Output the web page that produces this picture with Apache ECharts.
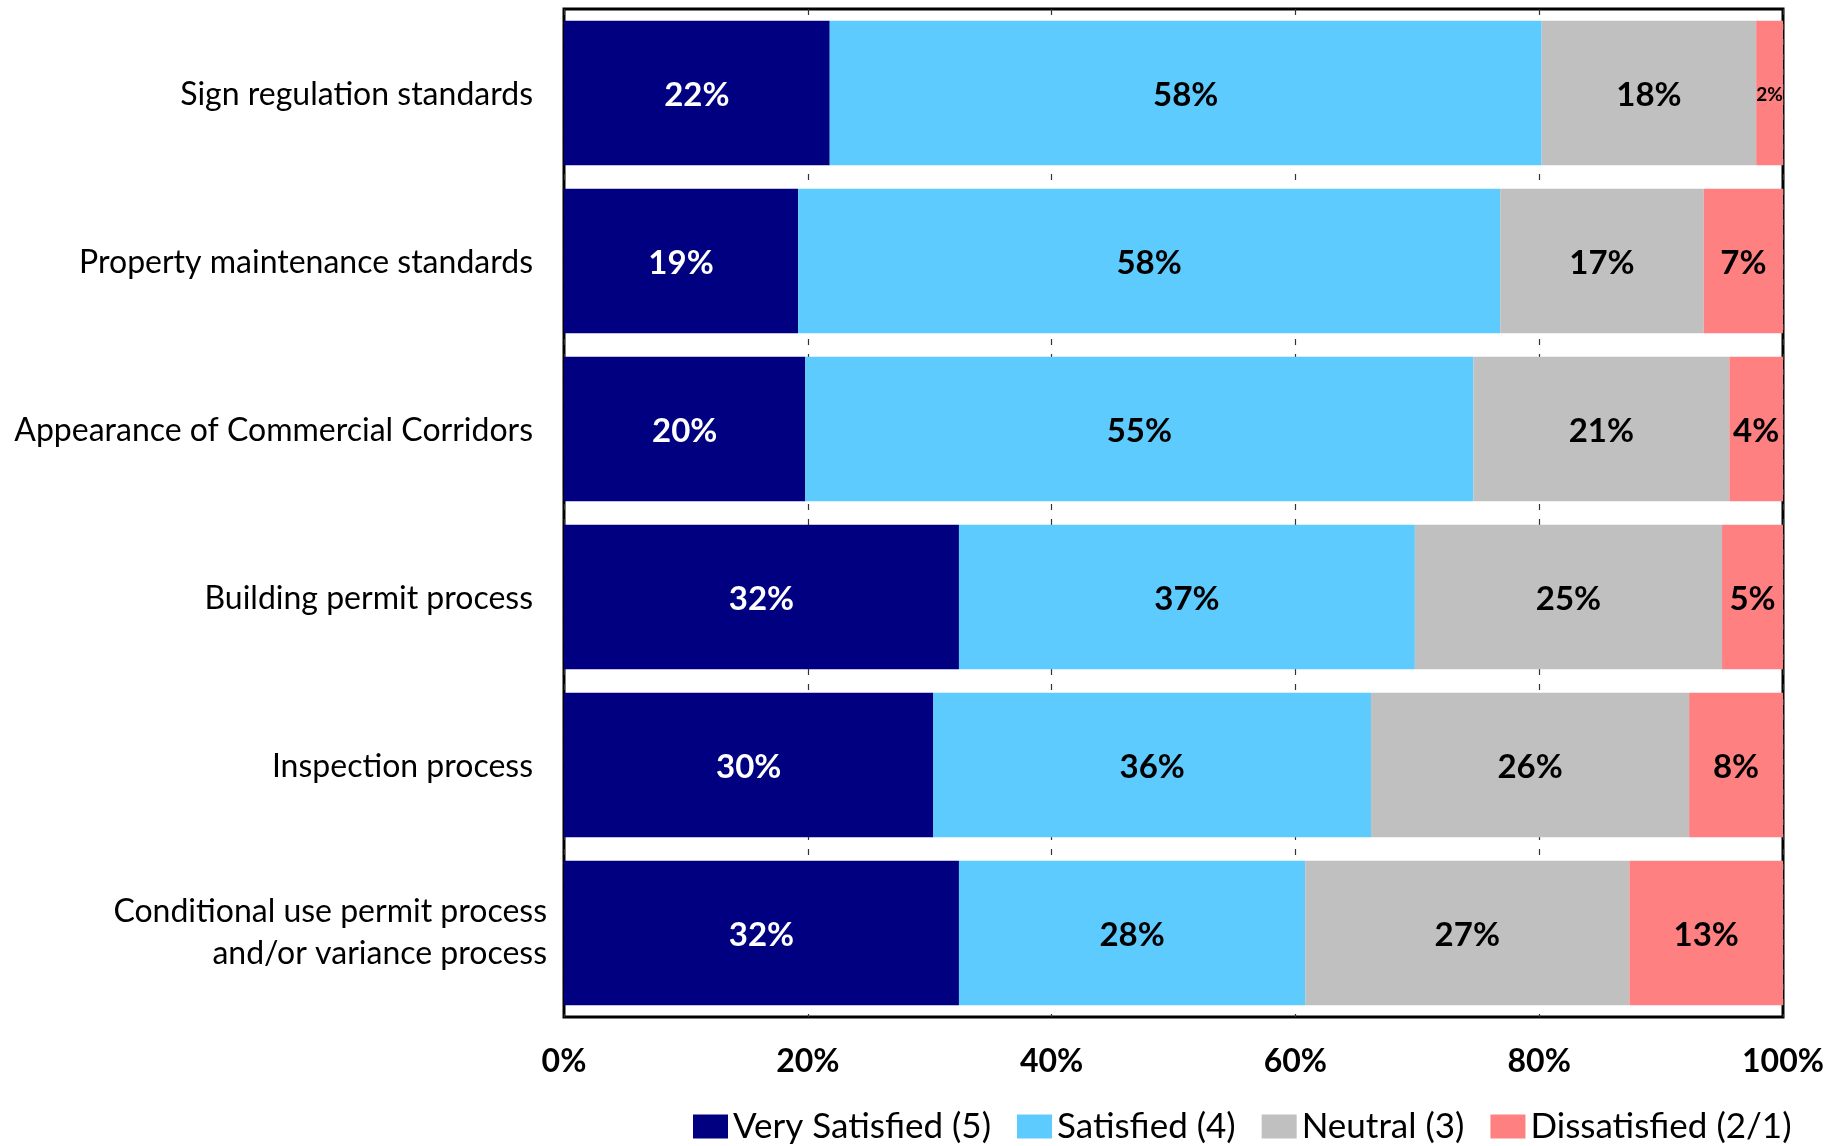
<!DOCTYPE html>
<html>
<head>
<meta charset="utf-8">
<script src="https://cdn.jsdelivr.net/npm/echarts@6/dist/echarts.min.js"></script>
<style>
  html, body { margin: 0; padding: 0; background: #ffffff; }
  #chart { width: 1845px; height: 1146px; }
</style>
</head>
<body>
<div id="chart"></div>
<script>
// Survey items, listed top to bottom
const categories = [
  'Sign regulation standards',
  'Property maintenance standards',
  'Appearance of Commercial Corridors',
  'Building permit process',
  'Inspection process',
  'Conditional use permit process\nand/or variance process'
];

// Share of respondents (percent) per rating group
const verySatisfied = [21.8, 19.2, 19.8, 32.4, 30.3, 32.4];
const satisfied     = [58.4, 57.6, 54.8, 37.4, 35.9, 28.4];
const neutral       = [17.6, 16.7, 21.0, 25.2, 26.1, 26.6];
const dissatisfied  = [2.2, 6.5, 4.4, 5.0, 7.7, 12.6];

const seriesNames = ['Very Satisfied (5)', 'Satisfied (4)', 'Neutral (3)', 'Dissatisfied (2/1)'];
const axisTicks = [0, 20, 40, 60, 80, 100];

const FONT = 'Lato';
const colors = ['#000080', '#5ECBFF', '#C0C0C0', '#FF8080'];
const labelColors = ['#ffffff', '#000000', '#000000', '#000000'];

function makeSeries(name, values, idx) {
  return {
    name: name,
    type: 'bar',
    stack: 'total',
    barCategoryGap: '14%',
    itemStyle: { color: colors[idx] },
    label: {
      show: true,
      position: 'inside',
      offset: [0, 2],
      color: labelColors[idx],
      fontFamily: FONT,
      fontWeight: 'bold',
      fontSize: 33,
      formatter: p => Math.round(p.value) + '%'
    },
    // very thin segments get a smaller label
    data: values.map(v => v < 3
      ? { value: v, label: { fontSize: 19 } }
      : v)
  };
}

const chart = echarts.init(document.getElementById('chart'));
chart.setOption({
  animation: false,
  backgroundColor: '#ffffff',
  color: colors,
  grid: {
    left: 564, right: 62, top: 9, bottom: 129,
    show: true,
    borderColor: '#000000',
    borderWidth: 3,
    backgroundColor: 'transparent'
  },
  legend: {
    left: 688,
    top: 1104,
    icon: 'rect',
    itemWidth: 35,
    itemHeight: 24,
    itemGap: 26,
    textStyle: { fontFamily: FONT, fontSize: 35, color: '#000000' },
    data: seriesNames
  },
  xAxis: {
    type: 'value',
    min: axisTicks[0],
    max: axisTicks[axisTicks.length - 1],
    interval: axisTicks[1] - axisTicks[0],
    axisLine: { show: false },
    axisTick: { show: false },
    splitLine: {
      show: true,
      lineStyle: { color: '#333333', width: 1.2, type: [6, 9] }
    },
    axisLabel: {
      margin: 29,
      fontFamily: FONT,
      fontWeight: 'bold',
      fontSize: 32,
      color: '#000000',
      formatter: v => v + '%'
    }
  },
  yAxis: {
    type: 'category',
    inverse: true,
    data: categories,
    axisLine: { show: false },
    axisTick: { show: false },
    splitLine: { show: false },
    axisLabel: {
      margin: 17,
      fontFamily: FONT,
      fontSize: 32,
      color: '#000000',
      formatter: v => v.includes('\n')
        ? v.split('\n').map(s => '{w|' + s + '}').join('\n')
        : '{n|' + v + '}',
      rich: {
        n: { fontFamily: FONT, fontSize: 32, color: '#000000', padding: [4, 14, 0, 0] },
        w: { fontFamily: FONT, fontSize: 32, color: '#000000', lineHeight: 42 }
      }
    }
  },
  series: [
    makeSeries(seriesNames[0], verySatisfied, 0),
    makeSeries(seriesNames[1], satisfied, 1),
    makeSeries(seriesNames[2], neutral, 2),
    makeSeries(seriesNames[3], dissatisfied, 3)
  ]
});
</script>
</body>
</html>
